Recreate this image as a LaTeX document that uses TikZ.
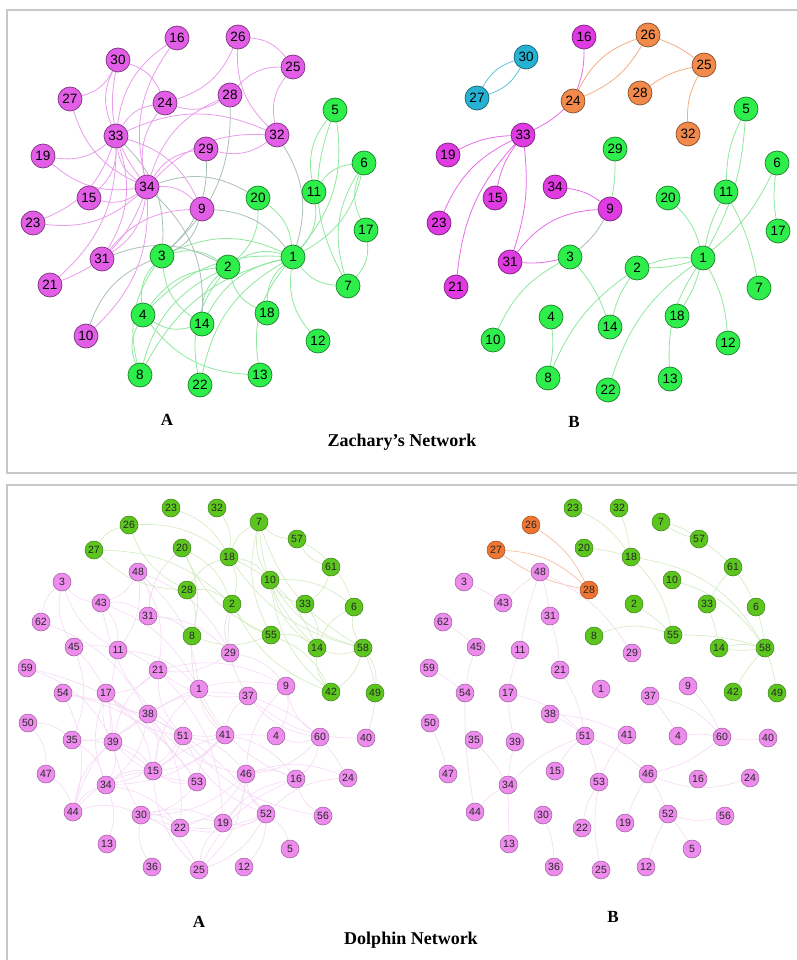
\documentclass[tikz,border=0pt]{standalone}
\usepackage{fontspec}
\setmainfont{Liberation Serif}
\newfontfamily\numfont{Liberation Sans}
\usetikzlibrary{backgrounds}
\definecolor{zpink}{HTML}{E35EE6}
\definecolor{zgreen}{HTML}{2DEE4A}
\definecolor{zmag}{HTML}{E03AE2}
\definecolor{zorange}{HTML}{F28A4C}
\definecolor{zcyan}{HTML}{26B2D2}
\definecolor{dpink}{HTML}{EE8CEE}
\definecolor{dgreen}{HTML}{5CC61E}
\definecolor{dorange}{HTML}{EE7632}
\definecolor{zpe}{HTML}{EB9CEE}
\definecolor{zge}{HTML}{8EE89E}
\definecolor{zxe}{HTML}{A9C2B8}
\definecolor{dpe}{HTML}{F6D9F6}
\definecolor{dge}{HTML}{D2EBBE}
\definecolor{dxe}{HTML}{E6DDE6}
\definecolor{doe}{HTML}{F6B898}
\definecolor{frame}{HTML}{C8C8C8}
\tikzset{
  znode/.style={circle, minimum size=24pt, inner sep=0pt, line width=0.7pt,
     draw=#1!55!black, fill=#1, text=black,
     font=\numfont\fontsize{13.5}{14}\selectfont},
  zg/.style={znode=zgreen}, zp/.style={znode=zpink}, zm/.style={znode=zmag},
  zo/.style={znode=zorange}, zc/.style={znode=zcyan},
  dnode/.style={circle, minimum size=18pt, inner sep=0pt, line width=0.5pt,
     draw=#1!65!black, fill=#1, text=black!85,
     font=\numfont\fontsize{10.5}{11}\selectfont},
  dg/.style={dnode=dgreen}, dp/.style={dnode=dpink}, do/.style={dnode=dorange},
  zpedge/.style={draw=zpe, line width=0.8pt},
  zgedge/.style={draw=zge, line width=0.8pt},
  zxedge/.style={draw=zxe, line width=0.8pt},
  zoedge/.style={draw=zorange!70, line width=0.8pt},
  zcedge/.style={draw=zcyan!75, line width=0.8pt},
  dpedge/.style={draw=dpe, line width=0.6pt},
  dgedge/.style={draw=dge, line width=0.6pt},
  dxedge/.style={draw=dxe, line width=0.6pt},
  doedge/.style={draw=doe, line width=0.6pt},
  panellabel/.style={font=\bfseries\fontsize{17}{18}\selectfont},
  titlelabel/.style={font=\bfseries\fontsize{18}{19}\selectfont},
  framebox/.style={draw=frame, line width=1.4pt}
}
\begin{document}
\begin{tikzpicture}[x=1pt,y=-1pt]
\useasboundingbox (0,0) rectangle (796,960);
\begin{scope}[on background layer]
\fill[white] (0,0) rectangle (796,960);
\end{scope}
\draw[framebox] (7,10) rectangle (800,473);
\draw[framebox] (7,485) rectangle (800,963);

% ---------------- Zachary A ----------------
\foreach \n/\x/\y/\s in {1/293/257/zg, 2/228/267/zg, 3/162/256/zg, 4/143/315/zg,
  5/335/110/zg, 6/364/163/zg, 7/348/286/zg, 8/140/375/zg, 9/202/209/zp,
  10/86/336/zp, 11/314/192/zg, 12/318/341/zg, 13/260/375/zg, 14/202/324/zg,
  15/89/198/zp, 16/177/38/zp, 17/366/230/zg, 18/267/313/zg, 19/43/156/zp,
  20/258/198/zg, 21/50/285/zp, 22/200/385/zg, 23/33/223/zp, 24/165/103/zp,
  25/293/67/zp, 26/238/37/zp, 27/70/99/zp, 28/230/95/zp, 29/206/149/zp,
  30/118/60/zp, 31/102/259/zp, 32/277/135/zp, 33/116/136/zp, 34/147/187/zp}
  \node[\s] (a\n) at (\x,\y) {\n};

\begin{scope}[on background layer]
\foreach \u/\v in {1/2,1/3,1/4,1/5,1/6,1/7,1/8,1/11,1/12,1/13,1/14,1/18,1/20,1/22,
  2/3,2/4,2/8,2/14,2/18,2/20,2/22,3/4,3/8,3/14,4/8,4/13,4/14,5/7,5/11,6/7,6/11,6/17,7/17}
  \draw[zgedge] (a\u) to[bend right=24] (a\v);
\foreach \u/\v in {1/9,1/32,2/31,3/9,3/10,3/28,3/29,3/33,14/34,20/34}
  \draw[zxedge] (a\u) to[bend right=24] (a\v);
\foreach \u/\v in {9/31,9/33,9/34,10/34,15/33,15/34,16/33,16/34,19/33,19/34,21/33,21/34,
  23/33,23/34,24/26,24/28,24/30,24/33,24/34,25/26,25/28,25/32,26/32,27/30,27/34,
  28/34,29/32,29/34,30/33,30/34,31/33,31/34,32/33,32/34,33/34}
  \draw[zpedge] (a\u) to[bend right=24] (a\v);
\end{scope}

% ---------------- Zachary B ----------------
\foreach \n/\x/\y/\s in {1/703/258/zg, 2/637/268/zg, 3/570/257/zg, 4/551/317/zg,
  5/746/109/zg, 6/777/163/zg, 7/759/288/zg, 8/548/378/zg, 9/610/209/zm,
  10/493/340/zg, 11/726/192/zg, 12/728/343/zg, 13/670/379/zg, 14/610/327/zg,
  15/495/198/zm, 16/584/37/zm, 17/778/231/zg, 18/677/316/zg, 19/448/155/zm,
  20/668/198/zg, 21/456/287/zm, 22/608/390/zg, 23/439/223/zm, 24/573/101/zo,
  25/704/65/zo, 26/648/35/zo, 27/477/98/zc, 28/640/93/zo, 29/615/149/zg,
  30/526/57/zc, 31/510/262/zm, 32/688/134/zo, 33/523/135/zm, 34/555/187/zm}
  \node[\s] (b\n) at (\x,\y) {\n};

\begin{scope}[on background layer]
\draw[zcedge] (b27) to[bend left=22] (b30);
\draw[zcedge] (b27) to[bend right=22] (b30);
\draw[zoedge] (b24) to[bend left=22] (b26);
\draw[zoedge] (b24) to[bend right=18] (b26);
\draw[zoedge] (b26) to[bend left=8] (b25);
\draw[zoedge] (b28) to[bend left=12] (b25);
\draw[zoedge] (b25) to[bend right=15] (b32);
\draw[zpedge, draw=zmag!75] (b16) to[bend left=10] (b24);
\draw[zpedge, draw=zmag!75] (b24) to[bend left=8] (b33);
\foreach \u/\v/\b in {33/19/12,33/23/20,33/15/12,33/21/18,33/31/-12,34/9/-15,31/9/-25,31/3/8}
  \draw[zpedge, draw=zmag!75] (b\u) to[bend right=\b] (b\v);
\draw[zxedge] (b3) to[bend right=10] (b9);
\foreach \u/\v/\b in {29/9/-5,3/10/18,3/14/-10,2/14/10,2/8/15,4/8/-8,1/2/10,1/2/-8,
  1/22/18,1/18/-8,1/13/18,1/12/-12,20/1/-15,5/11/12,5/1/-12,11/1/8,11/7/-8,6/1/-12,6/17/8}
  \draw[zgedge] (b\u) to[bend right=\b] (b\v);
\end{scope}

\node[panellabel] (za) at (167,420) {A};
\node[panellabel] (zb) at (574,422) {B};
\node[titlelabel] (zt) at (402,442) {Zachary's Network};

% ---------------- Dolphin A ----------------
\foreach \n/\x/\y/\s in {1/199/689/dp, 2/232/604/dg, 3/62/582/dp, 4/276/736/dp,
  5/290/849/dp, 6/354/607/dg, 7/259/522/dg, 8/192/636/dg, 9/286/686/dp,
  10/270/580/dg, 11/118/650/dp, 12/244/867/dp, 13/107/844/dp, 14/317/648/dg,
  15/153/771/dp, 16/296/779/dp, 17/106/693/dp, 18/229/557/dg, 19/223/823/dp,
  20/182/548/dg, 21/158/670/dp, 22/180/828/dp, 23/171/508/dg, 24/348/778/dp,
  25/199/870/dp, 26/129/525/dg, 27/94/550/dg, 28/187/590/dg, 29/230/653/dp,
  30/141/815/dp, 31/148/616/dp, 32/217/508/dg, 33/305/604/dg, 34/106/785/dp,
  35/72/740/dp, 36/152/867/dp, 37/248/696/dp, 38/148/714/dp, 39/113/742/dp,
  40/366/738/dp, 41/225/735/dp, 42/331/692/dg, 43/101/603/dp, 44/73/812/dp,
  45/74/647/dp, 46/246/774/dp, 47/46/774/dp, 48/138/572/dp, 49/375/693/dg,
  50/28/723/dp, 51/183/736/dp, 52/266/814/dp, 53/197/782/dp, 54/63/693/dp,
  55/271/635/dg, 56/323/816/dp, 57/297/539/dg, 58/363/648/dg, 59/27/668/dp,
  60/320/737/dp, 61/331/567/dg, 62/41/622/dp}
  \node[\s] (c\n) at (\x,\y) {\n};

\begin{scope}[on background layer]
\foreach \u/\v in {1/11,1/15,1/16,1/41,1/43,1/48,3/11,3/43,3/45,3/62,4/9,4/15,4/60,
  5/52,9/21,9/29,9/38,9/46,9/60,11/30,11/43,11/48,12/52,13/34,15/17,15/25,15/34,15/35,
  15/38,15/39,15/41,15/44,15/51,15/53,16/19,16/25,16/41,16/46,16/56,16/60,17/21,17/34,
  17/38,17/39,17/51,19/21,19/22,19/25,19/30,19/46,19/52,21/29,21/37,21/39,21/45,21/48,
  21/51,22/30,22/34,22/38,22/46,22/52,24/37,24/46,24/52,25/30,25/46,25/52,29/31,29/48,
  30/36,30/44,30/46,30/52,30/53,31/43,31/48,34/35,34/38,34/39,34/41,34/44,34/51,
  35/38,35/45,35/50,37/38,37/40,37/41,37/60,38/41,38/44,38/46,38/62,39/44,39/45,39/53,
  39/59,41/53,43/48,43/51,44/47,44/54,46/51,46/52,46/60,47/50,51/52,51/56,52/54,53/54,53/59}
  \draw[dpedge] (c\u) to[bend right=20] (c\v);
\foreach \u/\v in {2/18,2/20,2/27,2/28,2/42,2/55,6/10,6/14,6/57,6/58,7/10,7/14,7/18,
  7/55,7/57,7/58,8/20,8/28,8/55,10/14,10/18,10/33,10/42,10/58,14/18,14/33,14/42,14/55,
  14/58,18/23,18/26,18/28,18/32,18/58,20/55,26/27,26/28,27/28,33/61,42/55,42/58,49/58,57/61}
  \draw[dgedge] (c\u) to[bend right=20] (c\v);
\foreach \u/\v in {2/29,2/37,8/31,8/41,20/31,40/58}
  \draw[dxedge] (c\u) to[bend right=20] (c\v);
\end{scope}

% ---------------- Dolphin B ----------------
\begin{scope}[xshift=402pt]
\foreach \n/\x/\y/\s in {1/199/689/dp, 2/232/604/dg, 3/62/582/dp, 4/276/736/dp,
  5/290/849/dp, 6/354/607/dg, 7/259/522/dg, 8/192/636/dg, 9/286/686/dp,
  10/270/580/dg, 11/118/650/dp, 12/244/867/dp, 13/107/844/dp, 14/317/648/dg,
  15/153/771/dp, 16/296/779/dp, 17/106/693/dp, 18/229/557/dg, 19/223/823/dp,
  20/182/548/dg, 21/158/670/dp, 22/180/828/dp, 23/171/508/dg, 24/348/778/dp,
  25/199/870/dp, 26/129/525/do, 27/94/550/do, 28/187/590/do, 29/230/653/dp,
  30/141/815/dp, 31/148/616/dp, 32/217/508/dg, 33/305/604/dg, 34/106/785/dp,
  35/72/740/dp, 36/152/867/dp, 37/248/696/dp, 38/148/714/dp, 39/113/742/dp,
  40/366/738/dp, 41/225/735/dp, 42/331/692/dg, 43/101/603/dp, 44/73/812/dp,
  45/74/647/dp, 46/246/774/dp, 47/46/774/dp, 48/138/572/dp, 49/375/693/dg,
  50/28/723/dp, 51/183/736/dp, 52/266/814/dp, 53/197/782/dp, 54/63/693/dp,
  55/271/635/dg, 56/323/816/dp, 57/297/539/dg, 58/363/648/dg, 59/27/668/dp,
  60/320/737/dp, 61/331/567/dg, 62/41/622/dp}
  \node[\s] (d\n) at (\x,\y) {\n};
\end{scope}

\begin{scope}[on background layer]
\draw[doedge] (d26) to[bend left=15] (d28);
\draw[doedge] (d27) to[bend left=20] (d28);
\draw[doedge] (d27) to[bend right=12] (d28);
\foreach \u/\v/\b in {23/18/-15,32/18/-5,20/18/-5,7/57/10,7/57/-10,57/61/-5,61/6/-5,
  61/33/5,18/55/-15,18/58/-25,10/58/-18,2/55/-5,8/55/-20,55/58/-8,6/58/-5,33/14/-5,
  14/58/-12,14/58/8,58/42/5,58/49/-5}
  \draw[dgedge] (d\u) to[bend right=\b] (d\v);
\foreach \u/\v/\b in {3/43/-5,43/48/-5,48/11/5,48/31/-5,48/29/-15,31/21/-5,62/45/-5,
  45/54/5,59/54/-5,54/44/5,50/47/-5,11/17/5,17/39/5,17/51/-15,21/51/-10,38/51/-5,
  38/41/-10,51/46/-10,51/53/-5,15/51/-10,51/34/12,35/34/-5,39/34/5,44/34/-10,41/53/8,
  37/60/-18,37/4/-5,9/60/-10,4/60/-8,60/40/8,60/46/-12,46/24/20,46/19/5,22/53/-10,
  25/53/-10,52/46/5,52/12/5,52/5/-5,52/56/15,13/34/0,30/36/-10}
  \draw[dpedge] (d\u) to[bend right=\b] (d\v);
\end{scope}

\node[panellabel] (da) at (199,922) {A};
\node[panellabel] (db) at (613,917) {B};
\node[titlelabel] (dt) at (411,940) {Dolphin Network};
\end{tikzpicture}
\end{document}
